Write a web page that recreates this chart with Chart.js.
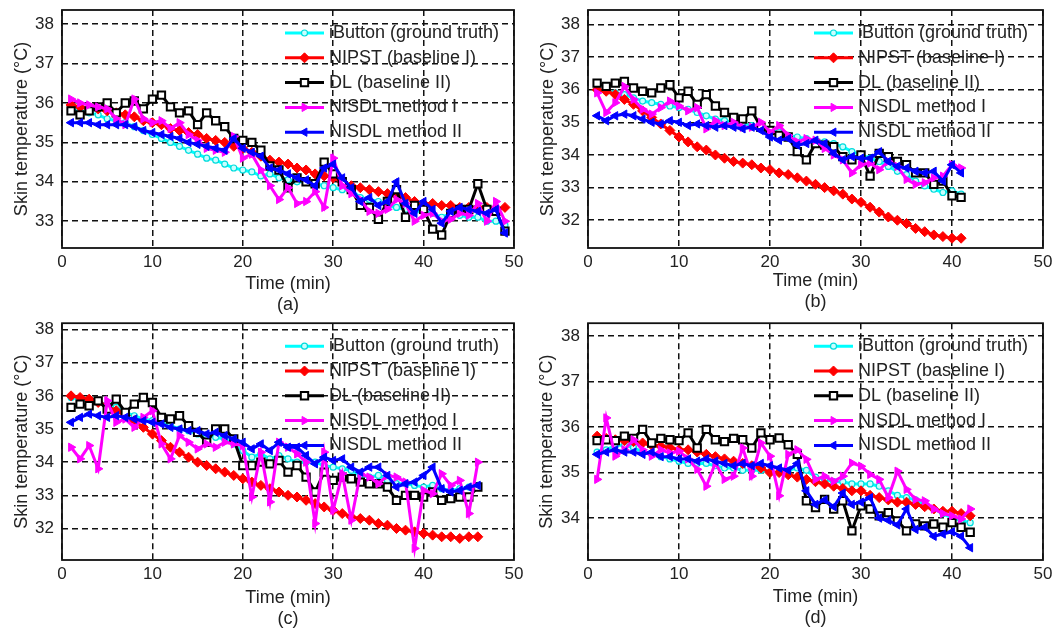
<!DOCTYPE html>
<html lang="en">
<head>
<meta charset="utf-8">
<title>Skin temperature comparison</title>
<script src="https://cdn.jsdelivr.net/npm/chart.js@4.4.0/dist/chart.umd.min.js"></script>
<style>
    body { margin: 0; background: #fff; }
    .figure { position: relative; width: 1062px; height: 633px; }
    .figure canvas { position: absolute; }
</style>
</head>
<body>
<div class="figure">
    <canvas id="chartA" width="531" height="316" style="left:0;top:0"></canvas>
    <canvas id="chartB" width="531" height="316" style="left:531px;top:0"></canvas>
    <canvas id="chartC" width="531" height="317" style="left:0;top:316px"></canvas>
    <canvas id="chartD" width="531" height="317" style="left:531px;top:316px"></canvas>
</div>
<script>
// legend names and tick labels
const seriesNames = ['iButton (ground truth)', 'NIPST (baseline I)', 'DL (baseline II)', 'NISDL method I', 'NISDL method II'];
const xTicks = [0, 10, 20, 30, 40, 50];
const yTicksA = [33, 34, 35, 36, 37, 38];
const yTicksB = [32, 33, 34, 35, 36, 37, 38];
const yTicksC = [32, 33, 34, 35, 36, 37, 38];
const yTicksD = [34, 35, 36, 37, 38];

// (a)
const timeA = [1,2,3,4,5,6,7,8,9,10,11,12,13,14,15,16,17,18,19,20,21,22,23,24,25,26,27,28,29,30,31,32,33,34,35,36,37,38,39,40,41,42,43,44,45,46,47,48,49];
const iButtonA = [35.85,35.8,35.75,35.7,35.6,35.55,35.5,35.4,35.3,35.2, 35.1,35.0,34.9,34.8,34.7,34.6,34.55,34.45,34.35,34.3,
    34.25,34.15,34.2,34.1,34.05,34.0,34.0,33.95,33.9,33.85, 33.8,33.8,33.6,33.55,33.5,33.4,33.35,33.3,33.25,33.25,
    33.2,33.1,33.2,33.15,33.1,33.1,33.0,33.0,32.9];
const nipstA = [35.95,35.9,35.85,35.85,35.8,35.75,35.7,35.65,35.55,35.5, 35.45,35.35,35.3,35.25,35.2,35.1,35.05,35.0,34.9,34.85,
    34.75,34.65,34.55,34.5,34.45,34.35,34.3,34.2,34.15,34.1, 34.0,33.9,33.85,33.8,33.75,33.7,33.65,33.6,33.5,33.45,
    33.45,33.4,33.4,33.35,33.35,33.35,33.35,33.3,33.35];
const dlA = [35.8,35.7,35.8,35.9,36.0,35.75,36.0,36.05,35.85,36.1, 36.2,35.9,35.75,35.8,35.45,35.75,35.55,35.4,35.1,35.05,
    35.0,34.8,34.4,34.3,33.85,34.1,34.0,33.95,34.5,34.2, 34.0,33.8,33.4,33.35,33.05,33.5,33.8,33.1,33.4,33.3,
    32.8,32.65,33.2,33.3,33.3,33.95,33.3,33.25,32.75];
const nisdl1A = [36.1,36.0,35.95,35.9,35.85,35.6,35.45,36.1,35.6,35.5, 35.55,35.35,35.5,35.2,35.05,34.85,34.8,34.75,35.15,34.6,
    34.7,34.3,33.9,33.55,33.85,33.45,33.5,33.75,33.35,34.6, 33.9,33.7,33.55,33.25,33.2,33.3,33.55,33.45,33.0,33.15,
    33.2,33.0,33.05,33.2,33.15,33.45,33.0,33.5,33.0];
const nisdl2A = [35.5,35.5,35.5,35.45,35.45,35.45,35.45,35.4,35.3,35.25, 35.2,35.15,35.1,35.0,34.95,34.9,34.85,34.8,35.1,34.85,
    34.75,34.65,34.35,34.3,34.2,34.1,34.05,33.9,34.35,34.45, 34.1,33.85,33.5,33.6,33.4,33.5,34.0,33.45,33.2,33.5,
    33.3,32.95,33.25,33.35,33.3,33.25,33.2,33.3,32.7];

// (b)
const timeB = [1,2,3,4,5,6,7,8,9,10,11,12,13,14,15,16,17,18,19,20,21,22,23,24,25,26,27,28,29,30,31,32,33,34,35,36,37,38,39,40,41];
const iButtonB = [36.0,35.95,35.9,35.85,35.75,35.65,35.6,35.55,35.5,35.45, 35.4,35.3,35.2,35.1,35.05,35.0,34.95,34.9,34.85,34.75,
    34.7,34.6,34.55,34.5,34.45,34.4,34.35,34.25,34.1,34.0, 33.9,33.8,33.65,33.5,33.4,33.2,33.05,32.95,32.85,32.9, 32.8];
const nipstB = [36.0,35.95,35.85,35.7,35.55,35.35,35.15,34.95,34.75,34.55, 34.4,34.25,34.15,34.0,33.9,33.8,33.75,33.7,33.6,33.55,
    33.45,33.4,33.3,33.2,33.1,33.0,32.9,32.8,32.65,32.55, 32.4,32.25,32.1,32.0,31.9,31.75,31.65,31.55,31.5,31.45, 31.45];
const dlB = [36.2,36.1,36.2,36.25,36.05,35.95,35.9,36.05,36.15,35.75, 35.95,35.55,35.85,35.5,35.3,35.15,35.1,35.35,34.85,34.75,
    34.6,34.55,34.1,33.85,34.35,34.3,34.25,33.95,33.85,34.0, 33.35,34.05,33.95,33.8,33.7,33.45,33.45,33.1,33.2,32.75, 32.7];
const nisdl1B = [35.9,35.3,35.6,36.1,35.7,35.4,35.25,35.45,35.65,35.5, 35.35,35.45,34.8,35.05,34.9,35.0,34.85,34.85,35.0,34.7,
    34.9,34.6,34.4,34.5,34.45,34.2,34.0,33.85,33.45,33.7, 33.75,33.55,33.8,33.65,33.25,33.1,33.15,33.3,33.35,33.7, 33.6];
const nisdl2B = [35.2,35.05,35.2,35.25,35.2,35.1,35.0,34.95,35.05,35.0, 34.9,34.95,34.9,34.85,34.9,34.85,34.8,34.85,34.75,34.55,
    34.45,34.5,34.3,34.35,34.45,34.35,34.05,33.85,33.95,33.9, 33.9,34.1,33.8,33.65,33.6,33.5,33.45,33.5,33.2,33.7, 33.45];

// (c)
const timeC = [1,2,3,4,5,6,7,8,9,10,11,12,13,14,15,16,17,18,19,20,21,22,23,24,25,26,27,28,29,30,31,32,33,34,35,36,37,38,39,40,41,42,43,44,45,46];
const iButtonC = [35.95,35.9,35.85,35.8,35.75,35.65,35.5,35.4,35.3,35.25, 35.2,35.1,35.0,34.95,34.85,34.8,34.75,34.7,34.55,34.35,
    34.15,34.25,34.1,34.2,34.1,34.0,34.0,34.0,33.9,33.85, 33.8,33.75,33.6,33.55,33.6,33.45,33.35,33.35,33.3,33.25,
    33.3,33.2,33.15,33.2,33.25,33.3];
const nipstC = [36.0,35.95,35.9,35.8,35.7,35.55,35.4,35.25,35.05,34.85, 34.65,34.45,34.3,34.15,34.0,33.9,33.8,33.7,33.6,33.5,
    33.4,33.3,33.2,33.1,33.0,32.95,32.85,32.75,32.65,32.55, 32.45,32.35,32.3,32.25,32.15,32.1,32.0,31.95,31.9,31.85,
    31.8,31.75,31.75,31.7,31.75,31.75];
const dlC = [35.65,35.75,35.7,35.85,35.6,35.9,35.5,35.75,35.95,35.8, 35.35,35.3,35.4,35.1,34.9,34.6,35.0,35.0,34.7,33.9,
    33.9,34.0,33.95,34.05,33.7,33.9,33.55,33.1,33.7,33.45, 33.55,33.5,33.4,33.35,33.35,33.25,32.85,33.0,33.0,32.95,
    33.1,32.85,32.9,32.95,32.95,33.25];
const nisdl1C = [34.45,34.1,34.5,33.8,35.85,35.2,35.3,35.05,35.35,35.55, 34.55,34.1,34.8,34.6,34.4,34.55,34.45,34.6,34.55,34.5,
    32.95,34.3,32.8,34.6,34.45,34.25,34.0,32.15,34.3,32.55, 33.65,32.25,33.65,33.55,33.35,33.6,33.55,33.4,31.4,33.15,
    33.05,33.65,33.3,33.45,32.45,34.0];
const nisdl2C = [35.2,35.35,35.45,35.4,35.35,35.4,35.35,35.3,35.25,35.2, 35.15,35.05,35.0,34.95,34.95,34.85,34.9,34.8,34.7,34.6,
    34.4,34.55,34.35,34.6,34.45,34.45,34.2,33.95,34.15,34.05, 34.1,33.85,33.7,33.85,33.85,33.6,33.25,33.35,33.4,33.6,
    33.85,33.2,33.1,33.15,33.25,33.3];

// (d)
const timeD = [1,2,3,4,5,6,7,8,9,10,11,12,13,14,15,16,17,18,19,20,21,22,23,24,25,26,27,28,29,30,31,32,33,34,35,36,37,38,39,40,41,42];
const iButtonD = [35.45,35.5,35.6,35.6,35.55,35.45,35.4,35.35,35.3,35.25, 35.2,35.2,35.2,35.15,35.1,35.1,35.05,35.05,35.05,35.0,
    35.0,35.05,35.1,35.05,34.9,34.85,34.8,34.8,34.75,34.75, 34.75,34.7,34.6,34.5,34.45,34.4,34.3,34.2,34.1,34.0, 33.95,33.9];
const nipstD = [35.8,35.75,35.72,35.7,35.68,35.65,35.6,35.58,35.55,35.5, 35.5,35.45,35.4,35.35,35.3,35.25,35.2,35.15,35.1,35.0,
    35.0,34.95,34.9,34.85,34.8,34.75,34.7,34.65,34.6,34.6, 34.5,34.45,34.4,34.35,34.35,34.3,34.25,34.2,34.15,34.15, 34.1,34.05];
const dlD = [35.7,35.72,35.7,35.8,35.75,35.95,35.65,35.75,35.72,35.7, 35.87,35.54,35.95,35.72,35.68,35.75,35.72,35.54,35.87,35.72,
    35.76,35.61,35.4,34.38,34.23,34.41,34.2,34.38,33.72,34.27, 34.2,34.05,34.12,33.94,33.72,33.87,33.83,33.87,33.8,33.9, 33.8,33.69];
const nisdl1D = [34.85,36.2,35.36,35.5,35.72,35.5,35.36,35.5,35.43,35.47, 35.3,35.07,34.7,35.21,34.85,34.92,35.54,34.92,35.65,35.36,
    34.49,35.4,35.5,35.29,34.85,34.92,34.81,34.92,35.21,35.14, 34.96,34.85,34.45,35.03,34.63,34.41,34.38,34.2,34.1,34.05, 33.98,34.2];
const nisdl2D = [35.4,35.45,35.5,35.45,35.45,35.4,35.45,35.35,35.35,35.3, 35.3,35.25,35.3,35.25,35.2,35.15,35.2,35.15,35.2,35.15,
    35.1,35.05,35.2,34.6,34.3,34.4,34.25,34.55,34.3,34.35, 34.45,34.0,33.95,33.85,34.2,33.75,33.8,33.6,33.65,33.7, 33.6,33.35];

// line/marker look per series (MATLAB style)
const seriesStyles = [
    { color: 'rgb(0,255,255)', pointStyle: 'circle', rotation: 0, radius: 3, fill: 'rgb(200,255,255)', border: 'rgb(0,220,220)', bw: 1.2, order: 5 },
    { color: 'rgb(255,0,0)', pointStyle: 'rectRot', rotation: 0, radius: 5, fill: 'rgb(255,0,0)', border: 'rgb(255,0,0)', bw: 1, order: 4 },
    { color: 'rgb(0,0,0)', pointStyle: 'rect', rotation: 0, radius: 5.2, fill: '#fff', border: '#000', bw: 2, order: 3 },
    { color: 'rgb(255,0,255)', pointStyle: 'triangle', rotation: 90, radius: 4.8, fill: 'rgb(255,0,255)', border: 'rgb(255,0,255)', bw: 1, order: 2 },
    { color: 'rgb(0,0,255)', pointStyle: 'triangle', rotation: -90, radius: 4.8, fill: 'rgb(0,0,255)', border: 'rgb(0,0,255)', bw: 1, order: 1 }
];

const fontFamily = '"Liberation Sans", Arial, sans-serif';
Chart.defaults.font.family = fontFamily;
Chart.defaults.color = '#222';

// black frame round the axes
const boxPlugin = {
    id: 'axesBox',
    afterDraw(chart) {
        const a = chart.chartArea;
        const ctx = chart.ctx;
        ctx.save();
        ctx.strokeStyle = '#111';
        ctx.lineWidth = 1.8;
        ctx.strokeRect(a.left, a.top, a.right - a.left, a.bottom - a.top);
        ctx.restore();
    }
};

// legend drawn inside the axes, top right, no box
const insideLegend = {
    id: 'insideLegend',
    afterDraw(chart) {
        const a = chart.chartArea;
        const ctx = chart.ctx;
        const x0 = a.right - 229, x1 = a.right - 190, tx = a.right - 185;
        ctx.save();
        ctx.font = '18px ' + fontFamily;
        ctx.textBaseline = 'middle';
        chart.data.datasets.forEach((ds, i) => {
            const y = a.top + 23 + i * 24.8;
            ctx.setLineDash([]);
            ctx.strokeStyle = ds.borderColor;
            ctx.lineWidth = ds.borderWidth;
            ctx.beginPath();
            ctx.moveTo(x0, y);
            ctx.lineTo(x1, y);
            ctx.stroke();
            ctx.fillStyle = ds.pointBackgroundColor;
            ctx.strokeStyle = ds.pointBorderColor;
            ctx.lineWidth = ds.pointBorderWidth;
            if (Chart.helpers && Chart.helpers.drawPoint) {
                Chart.helpers.drawPoint(ctx, {
                    pointStyle: ds.pointStyle, rotation: ds.pointRotation,
                    radius: ds.pointRadius, borderWidth: ds.pointBorderWidth
                }, (x0 + x1) / 2, y);
            }
            ctx.fillStyle = '#222';
            ctx.fillText(ds.label, tx, y);
        });
        ctx.restore();
    }
};

function makePanel(p) {
    const ctx = document.getElementById(p.id).getContext('2d');
    const datasets = p.series.map((vals, i) => {
        const s = seriesStyles[i];
        return {
            label: seriesNames[i],
            data: vals.map((v, k) => ({ x: p.time[k], y: v })),
            borderColor: s.color,
            borderWidth: 3,
            pointStyle: s.pointStyle,
            pointRotation: s.rotation,
            pointRadius: s.radius,
            pointBackgroundColor: s.fill,
            pointBorderColor: s.border,
            pointBorderWidth: s.bw,
            tension: 0,
            order: s.order
        };
    });
    return new Chart(ctx, {
        type: 'line',
        data: { datasets: datasets },
        plugins: [boxPlugin, insideLegend],
        options: {
            responsive: false,
            animation: false,
            layout: { padding: { left: 0, top: p.top, right: p.width - p.right, bottom: 0 } },
            plugins: { legend: { display: false }, tooltip: { enabled: false } },
            scales: {
                x: {
                    type: 'linear', min: 0, max: 50,
                    afterBuildTicks: (scale) => { scale.ticks = xTicks.map(v => ({ value: v })); },
                    afterFit: (scale) => {
                        scale.height = p.height - p.bottom;
                        scale.paddingLeft = 0; scale.paddingRight = 0;
                    },
                    ticks: { font: { size: 17 }, color: '#222', padding: 4, maxRotation: 0 },
                    grid: { color: '#111', lineWidth: 1.5, drawTicks: false },
                    border: { display: false, dash: [6, 4] },
                    title: {
                        display: true, text: ['Time (min)', p.label],
                        font: { size: 18, lineHeight: 1.15 }, color: '#222',
                        padding: { top: 0, bottom: p.xTitlePad }
                    }
                },
                y: {
                    type: 'linear', min: p.yMin, max: p.yMax,
                    afterBuildTicks: (scale) => { scale.ticks = p.yTicks.map(v => ({ value: v })); },
                    afterFit: (scale) => {
                        scale.width = p.left;
                        scale.paddingTop = 0; scale.paddingBottom = 0;
                    },
                    ticks: { font: { size: 17 }, color: '#222', padding: 8 },
                    grid: { color: '#111', lineWidth: 1.5, drawTicks: false },
                    border: { display: false, dash: [6, 4] },
                    title: {
                        display: true, text: 'Skin temperature (\u00B0C)',
                        font: { size: 18 }, color: '#222',
                        padding: { top: p.yTitlePad + 1, bottom: 0 }
                    }
                }
            }
        }
    });
}

const panels = [
    { id: 'chartA', time: timeA, series: [iButtonA, nipstA, dlA, nisdl1A, nisdl2A], yMin: 32.32, yMax: 38.36, yTicks: yTicksA,
      label: '(a)', width: 531, height: 316, left: 62, right: 514, top: 10, bottom: 248, yTitlePad: 10, xTitlePad: 1 },
    { id: 'chartB', time: timeB, series: [iButtonB, nipstB, dlB, nisdl1B, nisdl2B], yMin: 31.15, yMax: 38.44, yTicks: yTicksB,
      label: '(b)', width: 531, height: 316, left: 57, right: 512, top: 10, bottom: 248, yTitlePad: 5, xTitlePad: 4 },
    { id: 'chartC', time: timeC, series: [iButtonC, nipstC, dlC, nisdl1C, nisdl2C], yMin: 31.05, yMax: 38.19, yTicks: yTicksC,
      label: '(c)', width: 531, height: 317, left: 62, right: 514, top: 6, bottom: 244, yTitlePad: 10, xTitlePad: 4 },
    { id: 'chartD', time: timeD, series: [iButtonD, nipstD, dlD, nisdl1D, nisdl2D], yMin: 33.08, yMax: 38.28, yTicks: yTicksD,
      label: '(d)', width: 531, height: 317, left: 57, right: 512, top: 6, bottom: 244, yTitlePad: 4, xTitlePad: 5 }
];

panels.forEach(makePanel);
</script>
</body>
</html>
